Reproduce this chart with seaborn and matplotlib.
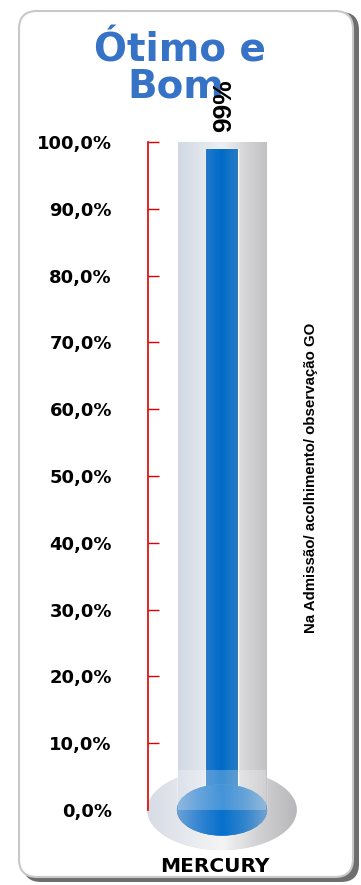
import matplotlib
matplotlib.use("Agg")
import matplotlib.pyplot as plt
import seaborn as sns
import numpy as np
import pandas as pd
from matplotlib.patches import FancyBboxPatch, Ellipse, Rectangle

# data
categories = ["Na Admissão/ acolhimento/ observação GO"]
values = [0.99]
tube_full = [1.0]
value_label = "99%"
y_ticks = [0.0, 0.1, 0.2, 0.3, 0.4, 0.5, 0.6, 0.7, 0.8, 0.9, 1.0]
y_ticklabels = ["0,0%", "10,0%", "20,0%", "30,0%", "40,0%", "50,0%",
                "60,0%", "70,0%", "80,0%", "90,0%", "100,0%"]

sns.set_style("white")
plt.rcParams['font.family'] = ['DejaVu Sans']

W, H = 361, 885
fig = plt.figure(figsize=(W / 100, H / 100), dpi=100)


def hgrad(stops, n=200):
    stops = np.array(stops)
    xs = np.linspace(0, 1, n)
    pos = np.linspace(0, 1, len(stops))
    return np.stack([np.interp(xs, pos, stops[:, i]) for i in range(3)], -1)[None]


# card frame with shadow
shadow = FancyBboxPatch((23 / W, 3 / H), 336 / W, 870 / H,
                        boxstyle="round,pad=0,rounding_size=0.05",
                        transform=fig.transFigure, facecolor="#6e6e6e",
                        edgecolor="none", zorder=0, mutation_aspect=W / H)
fig.patches.append(shadow)
card = FancyBboxPatch((19 / W, 8 / H), 334 / W, 866 / H,
                      boxstyle="round,pad=0,rounding_size=0.05",
                      transform=fig.transFigure, facecolor="white",
                      edgecolor="#c8c8c8", lw=1.5, zorder=1, mutation_aspect=W / H)
fig.patches.append(card)

ax = fig.add_axes([148 / W, (H - 810) / H, 148 / W, 668 / H])
ax.set_zorder(2)
ax.patch.set_alpha(0)

df = pd.DataFrame({"cat": categories, "val": values, "full": tube_full})

# glass tube (background) and mercury column
sns.barplot(data=df, x="cat", y="full", color="#c8ccd2", width=0.595,
            ax=ax, saturation=1, zorder=2)
sns.barplot(data=df, x="cat", y="val", color="#1a74c6", width=0.216,
            ax=ax, saturation=1, zorder=4)

tube_patch, bar_patch = ax.patches[0], ax.patches[1]

# cylindrical shading
im = ax.imshow(hgrad([[0.82, 0.85, 0.89], [0.88, 0.90, 0.93], [0.93, 0.94, 0.95],
                      [0.84, 0.84, 0.85], [0.76, 0.76, 0.77]]),
               extent=(-0.2975, 0.2975, 0, 1), aspect="auto", zorder=3)
im.set_clip_path(tube_patch)

imb = ax.imshow(hgrad([[0.15, 0.47, 0.78], [0.05, 0.45, 0.80], [0.00, 0.42, 0.78],
                       [0.08, 0.46, 0.78], [0.15, 0.48, 0.76]]),
                extent=(-0.108, 0.108, 0, 0.99), aspect="auto", zorder=5)
imb.set_clip_path(bar_patch)

# bulb
outer = Ellipse((0, 0), 1.01, 0.12, facecolor="#d2d4d8", edgecolor="none",
                zorder=1.5, clip_on=False)
ax.add_patch(outer)
imo = ax.imshow(hgrad([[0.84, 0.86, 0.90], [0.90, 0.91, 0.93], [0.96, 0.96, 0.96],
                       [0.82, 0.82, 0.83], [0.72, 0.72, 0.73]]),
                extent=(-0.505, 0.505, -0.06, 0.06), aspect="auto", zorder=1.6)
imo.set_clip_path(outer)
imo.set_clip_box(fig.bbox)

inner = Ellipse((0, 0), 0.61, 0.077, facecolor="#3a86cc", edgecolor="none",
                zorder=6, clip_on=False)
ax.add_patch(inner)
imi = ax.imshow(hgrad([[0.42, 0.63, 0.84], [0.20, 0.52, 0.82], [0.02, 0.44, 0.80],
                       [0.20, 0.52, 0.80], [0.45, 0.64, 0.82]]),
                extent=(-0.305, 0.305, -0.039, 0.039), aspect="auto", zorder=6.5)
imi.set_clip_path(inner)
imi.set_clip_box(fig.bbox)
ax.add_patch(Rectangle((-0.2975, 0.0), 0.595, 0.06, facecolor="white",
                       alpha=0.25, edgecolor="none", zorder=7))

ax.set_xlim(-0.5, 0.5)
ax.set_ylim(0, 1)
ax.set_xlabel("")
ax.set_ylabel("")
ax.set_xticks([])
ax.set_yticks(y_ticks)
ax.set_yticklabels(y_ticklabels, fontsize=13, fontweight="bold", color="black")
ax.tick_params(axis="y", direction="in", length=8, width=1, color="#e00000",
               pad=26, left=True)
for s in ["top", "right", "bottom"]:
    ax.spines[s].set_visible(False)
ax.spines["left"].set_color("#e00000")
ax.spines["left"].set_linewidth(1.2)

# texts
fig.text(180 / W, 1 - 50 / H, "Ótimo e", ha="center", va="center",
         fontsize=28, fontweight="bold", color="#3672c6", zorder=5)
fig.text(176 / W, 1 - 87 / H, "Bom", ha="center", va="center",
         fontsize=28, fontweight="bold", color="#3672c6", zorder=5)
fig.text(224 / W, 1 - 106 / H, value_label, ha="center", va="center",
         rotation=90, fontsize=19, fontweight="bold", color="black",
         family=["Liberation Sans", "DejaVu Sans"], zorder=6)
fig.text(311 / W, 1 - 478 / H, categories[0], ha="center", va="center",
         rotation=90, fontsize=10.8, fontweight="bold", color="black",
         family=["Liberation Sans", "DejaVu Sans"], zorder=6)
fig.text(215 / W, 1 - 866 / H, "MERCURY", ha="center", va="center",
         fontsize=14.5, fontweight="bold", color="black", zorder=6)

fig.savefig("out.png", dpi=100)
